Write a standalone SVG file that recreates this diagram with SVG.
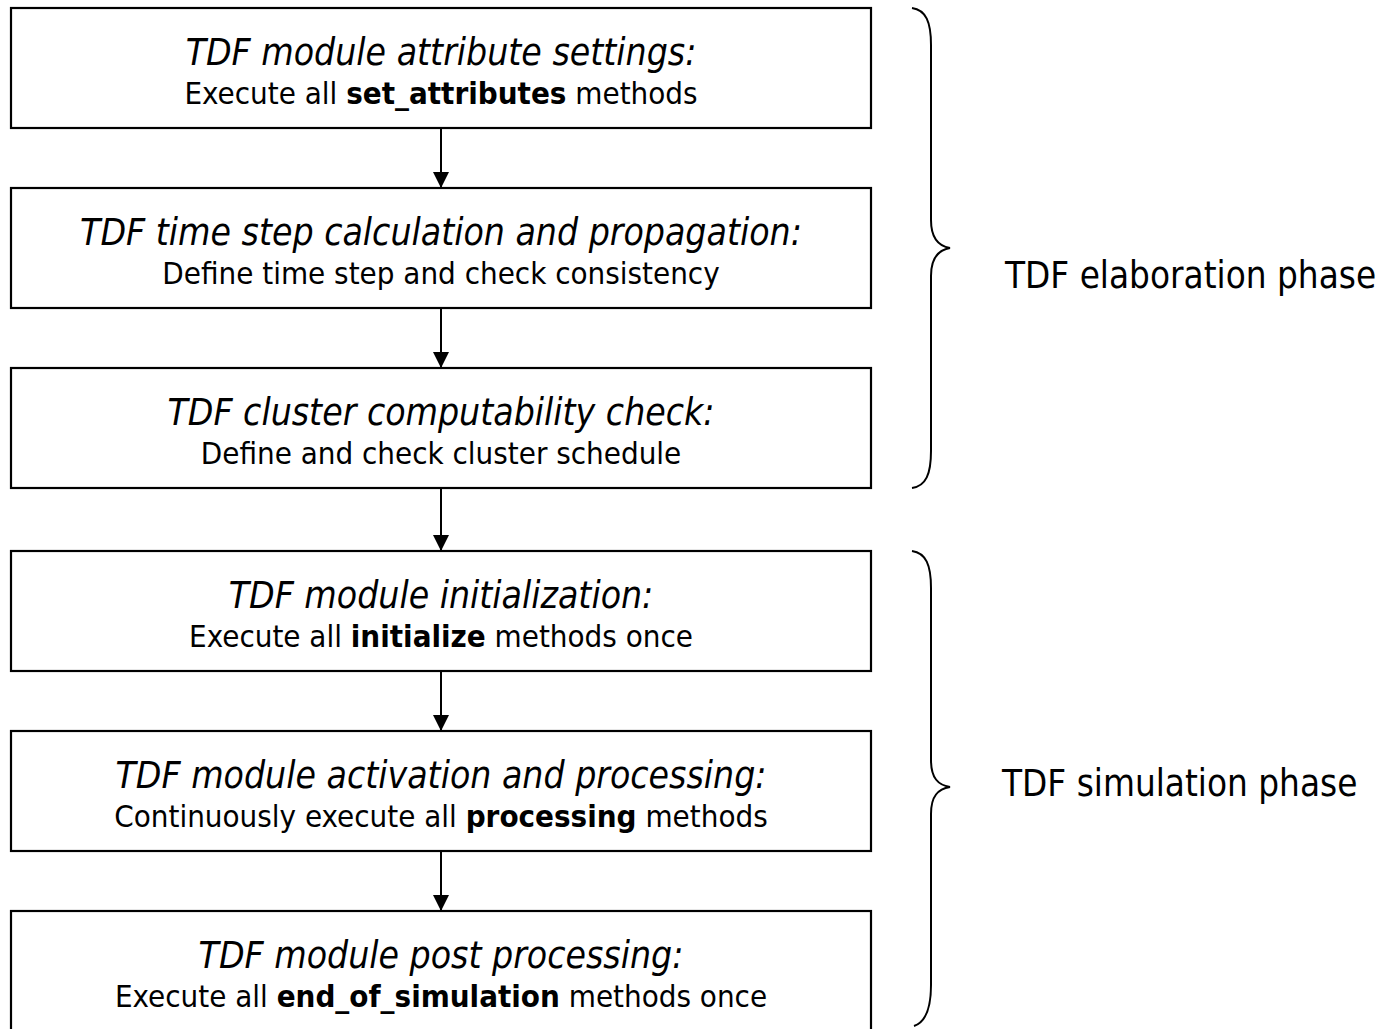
<svg xmlns="http://www.w3.org/2000/svg" width="1386" height="1029" viewBox="0 0 1386 1029">
<defs>
<style>
.box{fill:#fff;stroke:#000;stroke-width:2.2}
.t{font-family:"DejaVu Sans Condensed","DejaVu Sans",sans-serif;fill:#000;text-anchor:middle}
.h{font-style:italic;font-size:37px}
.r{font-size:31px}
.b{font-weight:bold}
.c{stroke:#000;stroke-width:2;fill:none}
.br{stroke:#000;stroke-width:2;fill:none}
.lbl{font-family:"DejaVu Sans Condensed","DejaVu Sans",sans-serif;font-size:36.5px;fill:#000}
</style>
<marker id="ah" markerWidth="16" markerHeight="16" viewBox="0 0 16 16" refX="16" refY="8" orient="auto" markerUnits="userSpaceOnUse">
<path d="M0,0 L16,8 L0,16 Z" fill="#000"/>
</marker>
</defs>
<rect width="1386" height="1029" fill="#fff"/>
<g id="connectors">
<line class="c" x1="441" y1="128" x2="441" y2="188" marker-end="url(#ah)"/>
<line class="c" x1="441" y1="308" x2="441" y2="368" marker-end="url(#ah)"/>
<line class="c" x1="441" y1="488" x2="441" y2="551" marker-end="url(#ah)"/>
<line class="c" x1="441" y1="671" x2="441" y2="731" marker-end="url(#ah)"/>
<line class="c" x1="441" y1="851" x2="441" y2="911" marker-end="url(#ah)"/>
</g>
<g id="n1">
<rect class="box" x="11" y="8" width="860" height="120"/>
<text class="t h" x="441" y="65">TDF module attribute settings:</text>
<text class="t r" x="441" y="104">Execute all <tspan class="b">set_attributes</tspan> methods</text>
</g>
<g id="n2">
<rect class="box" x="11" y="188" width="860" height="120"/>
<text class="t h" x="441" y="245">TDF time step calculation and propagation:</text>
<text class="t r" x="441" y="284">Define time step and check consistency</text>
</g>
<g id="n3">
<rect class="box" x="11" y="368" width="860" height="120"/>
<text class="t h" x="441" y="425">TDF cluster computability check:</text>
<text class="t r" x="441" y="464">Define and check cluster schedule</text>
</g>
<g id="n4">
<rect class="box" x="11" y="551" width="860" height="120"/>
<text class="t h" x="441" y="608">TDF module initialization:</text>
<text class="t r" x="441" y="647">Execute all <tspan class="b">initialize</tspan> methods once</text>
</g>
<g id="n5">
<rect class="box" x="11" y="731" width="860" height="120"/>
<text class="t h" x="441" y="788">TDF module activation and processing:</text>
<text class="t r" x="441" y="827">Continuously execute all <tspan class="b">processing</tspan> methods</text>
</g>
<g id="n6">
<rect class="box" x="11" y="911" width="860" height="120"/>
<text class="t h" x="441" y="968">TDF module post processing:</text>
<text class="t r" x="441" y="1007">Execute all <tspan class="b">end_of_simulation</tspan> methods once</text>
</g>
<g id="elaboration">
<path class="br" d="M912,8 C926,10 931,22 931,45 L931,220 C931,238 938,246 950,248 C938,250 931,258 931,276 L931,451 C931,474 926,486 912,488"/>
<text class="lbl" x="1005" y="288">TDF elaboration phase</text>
</g>
<g id="simulation">
<path class="br" d="M912,551 C926,553 931,565 931,588 L931,760 C931,778 938,785 950,787 C938,789 931,796 931,814 L931,985 C931,1008 926,1022 914,1026"/>
<text class="lbl" x="1002" y="796">TDF simulation phase</text>
</g>
</svg>
